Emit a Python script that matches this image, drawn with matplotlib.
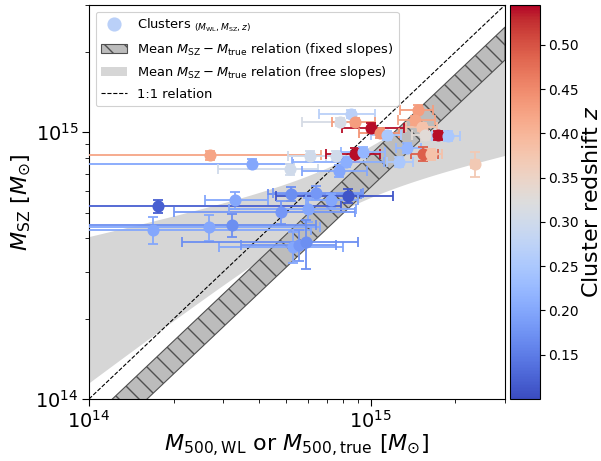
import numpy as np
import matplotlib
matplotlib.use("Agg")
import matplotlib.pyplot as plt
from matplotlib.lines import Line2D
from matplotlib.patches import Patch
from matplotlib.colors import Normalize

# ---- data (masses in units of 1e14 Msun) ----
m_wl = [2.68, 6.08, 7.55, 8.83, 9.37,
        3.80, 5.16, 8.20, 7.71, 12.6, 13.5, 15.3, 16.4, 23.5,
        5.20, 6.41, 8.32, 7.21, 3.30, 1.76, 4.80, 6.00,
        1.69, 2.66, 3.21,
        5.30, 5.56, 5.91,
        8.54, 7.81, 8.83, 10.04, 10.8, 11.42, 14.7, 14.4, 15.2, 15.6, 17.4, 18.9]
m_wl_lo = [2.40, 1.00, 0.60, 1.87, 1.50,
           3.30, 2.29, 2.96, 2.01, 1.20, 1.20, 1.40, 1.30, 0.70,
           0.89, 1.90, 3.69, 1.30, 0.71, 1.60, 2.79, 2.87,
           1.55, 2.50, 3.05,
           2.40, 2.10, 3.77,
           2.00, 2.11, 1.53, 2.14, 1.70, 1.40, 2.00, 1.90, 1.80, 1.60, 1.40, 2.40]
m_wl_hi = [3.99, 1.40, 2.00, 1.94, 1.90,
           1.50, 1.33, 3.00, 2.02, 1.50, 1.60, 2.00, 1.50, 0.70,
           4.07, 3.00, 3.68, 1.80, 1.03, 6.11, 4.03, 2.90,
           4.47, 3.93, 3.19,
           2.70, 2.00, 3.09,
           1.85, 2.58, 1.56, 3.05, 1.80, 1.40, 2.00, 2.50, 2.00, 2.20, 1.50, 1.90]
m_sz = [8.19, 8.13, 8.13, 8.26, 8.43,
        7.62, 7.26, 7.73, 7.16, 7.73, 8.75, 8.32, 8.26, 7.62,
        5.89, 5.93, 5.79, 5.55, 5.55, 5.27, 5.04, 5.14,
        4.31, 4.41, 4.50,
        3.73, 3.79, 3.87,
        11.75, 10.94, 10.94, 10.38, 9.94, 9.75, 12.17, 11.09, 10.47, 9.75, 9.75, 9.69]
m_sz_err = [0.35, 0.35, 0.35, 0.50, 0.35,
            0.35, 0.35, 0.35, 0.35, 0.35, 0.40, 0.50, 0.40, 0.80,
            0.35, 0.35, 0.35, 0.30, 0.40, 0.30, 0.50, 0.55,
            0.50, 0.50, 0.45,
            0.50, 0.50, 0.80,
            0.40, 0.40, 0.40, 0.45, 0.40, 0.40, 0.50, 0.45, 0.40, 0.40, 0.40, 0.40]
z_clu = [0.42, 0.30, 0.30, 0.54, 0.22,
         0.20, 0.30, 0.21, 0.20, 0.25, 0.22, 0.49, 0.38, 0.37,
         0.17, 0.18, 0.11, 0.20, 0.20, 0.12, 0.18, 0.20,
         0.20, 0.20, 0.17,
         0.20, 0.18, 0.17,
         0.27, 0.31, 0.43, 0.54, 0.44, 0.25, 0.43, 0.42, 0.38, 0.33, 0.54, 0.25]

# colour scale limits
z_min, z_max = 0.10, 0.545

# mean relations
fixed_slope = 1.0
fixed_norm_lo, fixed_norm_hi = 0.622, 0.826
free_pivot = 14.911      # log10 pivot mass
free_norm = 14.806       # log10 M_SZ at pivot
free_slope = 0.517
free_norm_sig = 0.093
free_slope_sig = 0.283

# ---- figure ----
D = 120
S = 100.0 / D   # keeps pixel sizes as designed for 100 dpi
fig = plt.figure(figsize=(601 / D, 461 / D), dpi=D)
ax = fig.add_axes([89/601, 62/461, 416/601, 394/461])
cax = fig.add_axes([510/601, 62/461, 30/601, 394/461])
for sp in list(ax.spines.values()) + list(cax.spines.values()):
    sp.set_linewidth(0.8 * S)

cmap = plt.get_cmap("coolwarm")
norm = Normalize(vmin=z_min, vmax=z_max)

xg = np.logspace(14, np.log10(3e15), 400)
lx = np.log10(xg)

# free slopes band
c = free_norm + free_slope * (lx - free_pivot)
w = np.sqrt(free_norm_sig**2 + (free_slope_sig * (lx - free_pivot))**2)
ax.fill_between(xg, 10**(c - w), 10**(c + w), color="#d6d6d6", lw=0, zorder=1)

# fixed slopes band
plt.rcParams["hatch.color"] = "#505050"
plt.rcParams["hatch.linewidth"] = 1.0 * S
ax.fill_between(xg, fixed_norm_lo * xg**fixed_slope, fixed_norm_hi * xg**fixed_slope,
                facecolor="#bcbcbc", edgecolor="#505050", hatch="\\\\", lw=0.8 * S, zorder=2)

# 1:1
ax.plot(xg, xg, ls="--", color="k", lw=0.8 * S, zorder=3)

# clusters
for i in range(len(m_wl)):
    col = cmap(norm(z_clu[i]))
    ax.errorbar(m_wl[i] * 1e14, m_sz[i] * 1e14,
                xerr=[[m_wl_lo[i] * 1e14], [m_wl_hi[i] * 1e14]],
                yerr=[[m_sz_err[i] * 1e14], [m_sz_err[i] * 1e14]],
                fmt="o", color=col, ms=7.5 * S, capsize=3.5 * S, elinewidth=1.3 * S,
                capthick=1.3 * S, zorder=4)

ax.set_xscale("log")
ax.set_yscale("log")
ax.set_xlim(1e14, 3e15)
ax.set_ylim(1e14, 3e15)
ax.tick_params(axis="both", which="major", labelsize=14 * S, length=5 * S, width=0.8 * S, pad=2.5 * S)
ax.tick_params(axis="both", which="minor", length=3 * S, width=0.6 * S)
ax.xaxis.set_minor_formatter(matplotlib.ticker.NullFormatter())
ax.yaxis.set_minor_formatter(matplotlib.ticker.NullFormatter())
ax.set_xlabel(r"$M_{500,\mathrm{WL}}$ or $M_{500,\mathrm{true}}$ $[M_{\odot}]$",
              fontsize=16 * S, labelpad=1 * S)
ax.set_ylabel(r"$M_{\mathrm{SZ}}$ $[M_{\odot}]$", fontsize=16 * S, labelpad=2 * S)

# legend
h_clu = Line2D([], [], marker="o", ls="none", color=cmap(norm(0.27)), ms=9 * S)
h_fix = Patch(facecolor="#bcbcbc", edgecolor="#505050", hatch="\\\\", lw=0.8 * S)
h_free = Patch(facecolor="#d6d6d6", edgecolor="none")
h_one = Line2D([], [], ls="--", color="k", lw=0.8 * S)
leg = ax.legend([h_clu, h_fix, h_free, h_one],
                [r"Clusters ${}_{(M_{\mathrm{WL}},M_{\mathrm{SZ}},z)}$",
                 r"Mean $M_{\mathrm{SZ}}-M_{\mathrm{true}}$ relation (fixed slopes)",
                 r"Mean $M_{\mathrm{SZ}}-M_{\mathrm{true}}$ relation (free slopes)",
                 "1:1 relation"],
                loc="upper left", fontsize=9.4 * S, framealpha=0.9)
leg.get_frame().set_linewidth(0.8 * S)

sm = matplotlib.cm.ScalarMappable(norm=norm, cmap=cmap)
cb = fig.colorbar(sm, cax=cax)
cb.outline.set_linewidth(0.8 * S)
cb.set_ticks([0.15, 0.20, 0.25, 0.30, 0.35, 0.40, 0.45, 0.50])
cb.ax.tick_params(labelsize=10 * S, length=3.5 * S, width=0.8 * S, pad=2.5 * S)
cb.set_label(r"Cluster redshift $z$", fontsize=16 * S, labelpad=2 * S)

fig.savefig("out.png", dpi=D)
